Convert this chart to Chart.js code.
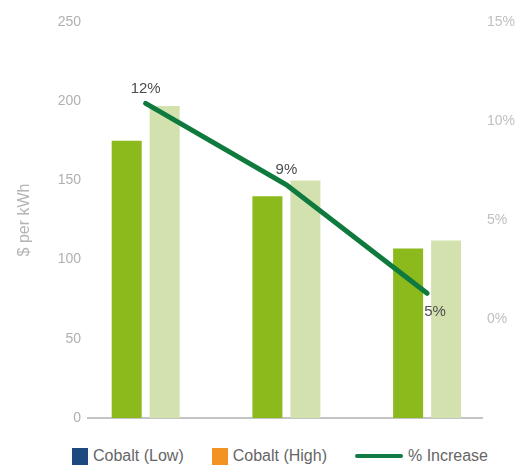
<!DOCTYPE html>
<html>
<head>
<meta charset="utf-8">
<script src="https://cdn.jsdelivr.net/npm/chart.js@4.4.1/dist/chart.umd.min.js"></script>
<style>
  body { margin: 0; background: #fff; font-family: "Liberation Sans", Arial, sans-serif; }
  #box { position: relative; width: 516px; height: 440px; }
  #legend { display: flex; align-items: center; gap: 28px; padding-left: 72px; padding-top: 5px; height: 22px; font-size: 16px; color: #666; }
  .item { display: flex; align-items: center; gap: 5px; white-space: nowrap; }
  .swatch { width: 16px; height: 17px; }
  .stroke { width: 48px; height: 4px; border-radius: 2px; }
</style>
</head>
<body>
<div id="box"><canvas id="costChart"></canvas></div>
<div id="legend"></div>
<script>
// three cost groups, plotted at x = 0, 1, 2
const groups = [0, 1, 2];
const cobaltLow = [175, 140, 107];
const cobaltHigh = [197, 150, 112];
const pctIncrease = [12, 9, 5];
const costTicks = [0, 50, 100, 150, 200, 250];
const pctTicks = [0, 5, 10, 15];

const legendItems = [
  { label: "Cobalt (Low)", color: "#1d4a7e", kind: "swatch" },
  { label: "Cobalt (High)", color: "#f39323", kind: "swatch" },
  { label: "% Increase", color: "#117a45", kind: "stroke" },
];

const FONT = '"Liberation Sans", Arial, sans-serif';

// % labels next to each point of the line
const pointLabels = {
  id: "pointLabels",
  afterDatasetsDraw(chart) {
    const meta = chart.getDatasetMeta(2);
    const ctx = chart.ctx;
    ctx.save();
    ctx.font = "15px " + FONT;
    ctx.fillStyle = "#4d4d4d";
    ctx.textAlign = "center";
    ctx.textBaseline = "middle";
    meta.data.forEach((pt, i) => {
      const below = i === meta.data.length - 1;
      ctx.fillText(pctIncrease[i] + "%", pt.x + (below ? 8 : 0), pt.y + (below ? 19 : -15));
    });
    ctx.restore();
  },
};

const ctx = document.getElementById("costChart").getContext("2d");
new Chart(ctx, {
  type: "bar",
  data: {
    datasets: [
      {
        label: "Cobalt (Low)",
        data: groups.map((g, i) => ({ x: g, y: cobaltLow[i] })),
        backgroundColor: "#8cb91b",
        categoryPercentage: 0.54,
        barPercentage: 0.79,
        order: 1,
      },
      {
        label: "Cobalt (High)",
        data: groups.map((g, i) => ({ x: g, y: cobaltHigh[i] })),
        backgroundColor: "#d2e1ae",
        categoryPercentage: 0.54,
        barPercentage: 0.79,
        order: 1,
      },
      {
        type: "line",
        label: "% Increase",
        data: groups.map((g, i) => ({ x: g, y: pctIncrease[i] })),
        yAxisID: "yLine",
        borderColor: "#0f7a3e",
        borderWidth: 5,
        borderCapStyle: "round",
        pointRadius: 0,
        tension: 0,
        order: 0,
      },
    ],
  },
  options: {
    responsive: true,
    maintainAspectRatio: false,
    animation: false,
    layout: { padding: { top: 22 } },
    plugins: {
      legend: { display: false },
      tooltip: { enabled: false },
    },
    scales: {
      x: {
        type: "linear",
        offset: false,
        min: -0.41,
        max: 2.39,
        afterBuildTicks: (scale) => {
          scale.ticks = groups.map((g) => ({ value: g }));
        },
        afterFit: (scale) => {
          scale.height = 22;
        },
        ticks: { display: false },
        grid: { display: false, drawTicks: false, offset: false },
        border: { color: "#c4c4c4", width: 2 },
      },
      y: {
        position: "left",
        min: 0,
        max: 250,
        afterBuildTicks: (scale) => {
          scale.ticks = costTicks.map((v) => ({ value: v }));
        },
        afterFit: (scale) => {
          scale.width = 88;
        },
        ticks: { color: "#b0b0b0", font: { family: FONT, size: 14 }, padding: 7 },
        grid: { display: false, drawTicks: false },
        border: { display: false },
        title: {
          display: true,
          text: "$ per kWh",
          color: "#b5b5b5",
          font: { family: FONT, size: 16 },
          padding: { top: 15, bottom: 0 },
        },
      },
      yPct: {
        position: "right",
        min: -5,
        max: 15,
        afterBuildTicks: (scale) => {
          scale.ticks = pctTicks.map((v) => ({ value: v }));
        },
        afterFit: (scale) => {
          scale.width = 34;
        },
        ticks: {
          color: "#c0c0c0",
          font: { family: FONT, size: 14 },
          padding: 5,
          callback: (v) => v + "%",
        },
        grid: { display: false, drawTicks: false },
        border: { display: false },
      },
      yLine: {
        display: false,
        min: 0.4,
        max: 15,
      },
    },
  },
  plugins: [pointLabels],
});

// legend row under the chart
const legend = document.getElementById("legend");
legendItems.forEach((it) => {
  const item = document.createElement("div");
  item.className = "item";
  const mark = document.createElement("span");
  mark.className = it.kind;
  mark.style.background = it.color;
  const text = document.createElement("span");
  text.textContent = it.label;
  item.appendChild(mark);
  item.appendChild(text);
  legend.appendChild(item);
});
</script>
</body>
</html>
